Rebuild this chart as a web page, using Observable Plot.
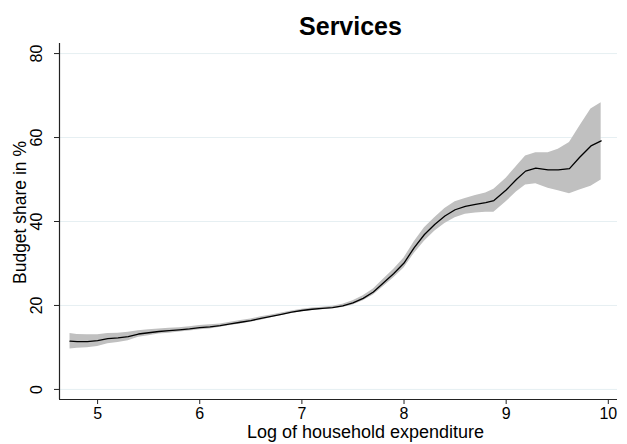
<!DOCTYPE html>
<html>
<head>
<meta charset="utf-8">
<script src="https://cdn.jsdelivr.net/npm/d3@7"></script>
<script src="https://cdn.jsdelivr.net/npm/@observablehq/plot@0.6"></script>
<style>
  html, body { margin: 0; padding: 0; background: #fff; }
  #chart svg { display: block; }
</style>
</head>
<body>
<div id="chart"></div>
<script>
const titleText = "Services";
const xLabel = "Log of household expenditure";
const yLabel = "Budget share in %";
const xTicks = [5, 6, 7, 8, 9, 10];
const yTicks = [0, 20, 40, 60, 80];

const logExp = [4.73, 4.8, 4.9, 5.0, 5.1, 5.2, 5.3, 5.4, 5.5, 5.6, 5.7, 5.8, 5.9, 6.0, 6.1, 6.2, 6.3, 6.4, 6.5, 6.6, 6.7, 6.8, 6.9, 7.0, 7.1, 7.2, 7.3, 7.4, 7.5, 7.6, 7.7, 7.8, 7.9, 8.0, 8.1, 8.2, 8.3, 8.4, 8.5, 8.6, 8.7, 8.8, 8.88, 9.0, 9.1, 9.19, 9.29, 9.41, 9.51, 9.62, 9.72, 9.83, 9.93];
const share = [11.5, 11.4, 11.4, 11.6, 12.1, 12.3, 12.6, 13.2, 13.5, 13.8, 14.0, 14.2, 14.4, 14.7, 14.9, 15.2, 15.6, 16.0, 16.4, 16.9, 17.4, 17.9, 18.4, 18.8, 19.1, 19.3, 19.5, 19.9, 20.6, 21.7, 23.2, 25.4, 27.6, 30.1, 33.8, 36.9, 39.3, 41.3, 42.8, 43.6, 44.1, 44.5, 45.0, 47.5, 50.0, 52.0, 52.7, 52.3, 52.3, 52.6, 55.3, 58.0, 59.2];
const upper = [13.3, 13.1, 13.0, 13.0, 13.3, 13.4, 13.6, 14.0, 14.2, 14.4, 14.6, 14.7, 14.9, 15.2, 15.4, 15.6, 16.0, 16.4, 16.8, 17.3, 17.7, 18.2, 18.7, 19.1, 19.4, 19.6, 19.8, 20.3, 21.1, 22.3, 23.9, 26.3, 28.6, 31.3, 35.2, 38.5, 40.9, 43.1, 44.7, 45.5, 46.2, 46.8, 47.7, 50.3, 53.1, 55.6, 56.4, 56.4, 57.2, 58.8, 62.7, 66.8, 68.3];
const lower = [9.6, 9.8, 9.9, 10.2, 10.9, 11.2, 11.6, 12.4, 12.8, 13.2, 13.4, 13.7, 13.9, 14.2, 14.4, 14.8, 15.2, 15.6, 16.0, 16.5, 17.1, 17.6, 18.1, 18.5, 18.8, 19.0, 19.2, 19.5, 20.1, 21.1, 22.5, 24.5, 26.6, 28.9, 32.4, 35.3, 37.7, 39.5, 40.9, 41.7, 42.0, 42.2, 42.2, 44.7, 47.0, 48.7, 49.0, 47.9, 47.3, 46.6, 47.5, 48.4, 49.9];

const data = logExp.map((x, i) => ({x, y: share[i], lo: lower[i], hi: upper[i]}));

const xDomain = [4.627, 10.09];
const yDomain = [-2.4, 82.4];
const font = "'Liberation Sans', Arial, Helvetica, sans-serif";

const chart = Plot.plot({
  width: 627,
  height: 444,
  marginLeft: 59,
  marginRight: 10,
  marginTop: 43,
  marginBottom: 45,
  style: {fontFamily: font, background: "#fff", color: "#000"},
  x: {domain: xDomain, label: null},
  y: {domain: yDomain, label: null},
  marks: [
    Plot.ruleY(yTicks, {stroke: "#e6eff2", strokeWidth: 1}),
    Plot.areaY(data, {x: "x", y1: "lo", y2: "hi", fill: "#c0c0c0"}),
    Plot.lineY(data, {x: "x", y: "y", stroke: "#000", strokeWidth: 1.3}),
    Plot.ruleX([xDomain[0]], {stroke: "#222", strokeWidth: 1.2}),
    Plot.ruleY([yDomain[0]], {stroke: "#222", strokeWidth: 1.2}),
    Plot.axisX(xTicks, {tickSize: 5, tickPadding: 3, fontSize: 16, label: null, stroke: "#222"}),
    Plot.axisY(yTicks, {tickSize: 5, tickRotate: -90, tickPadding: 13, fontSize: 16, label: null, stroke: "#222"}),
    Plot.text([titleText], {frameAnchor: "top", dy: -9, dx: 12, fontSize: 25, fontWeight: "bold", lineAnchor: "bottom"}),
    Plot.text([xLabel], {frameAnchor: "bottom", dy: 38, dx: 27, fontSize: 18, lineAnchor: "bottom"}),
    Plot.text([yLabel], {frameAnchor: "left", dx: -39, dy: -9, rotate: -90, fontSize: 17.5, textAnchor: "middle", lineAnchor: "middle"})
  ]
});
document.getElementById("chart").appendChild(chart);
</script>
</body>
</html>
